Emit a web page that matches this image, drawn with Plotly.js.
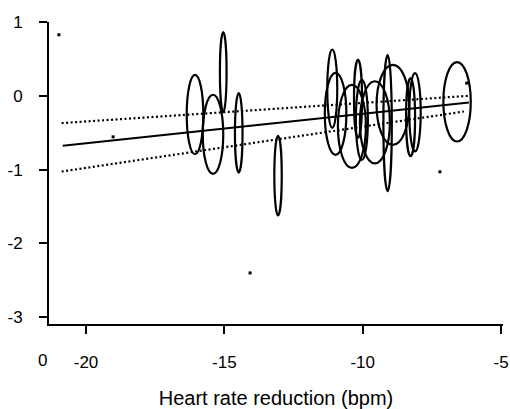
<!DOCTYPE html>
<html>
<head>
<meta charset="utf-8">
<script src="https://cdn.plot.ly/plotly-3.0.1.min.js"></script>
<style>html,body{margin:0;padding:0;background:#fff;}#chart{width:510px;height:409px;}</style>
</head>
<body>
<div id="chart"></div>
<script>
// Study ellipses (centre, half-width in bpm, half-height in effect units)
const studyX  = [-16.06, -15.41, -15.04, -14.48, -13.06, -11.10, -10.98, -10.39, -10.17, -10.03, -9.56, -9.10, -8.91, -8.27, -8.11, -6.59];
const studyY  = [-0.254, -0.522, 0.321, -0.502, -1.082, 0.095, -0.244, -0.414, -0.041, -0.325, -0.359, -0.370, -0.122, -0.289, -0.224, -0.081];
const studyHW = [0.30, 0.37, 0.12, 0.137, 0.134, 0.18, 0.39, 0.506, 0.145, 0.217, 0.542, 0.152, 0.589, 0.163, 0.206, 0.495];
const studyHH = [0.538, 0.536, 0.542, 0.538, 0.54, 0.53, 0.556, 0.563, 0.53, 0.542, 0.556, 0.922, 0.542, 0.53, 0.53, 0.538];

// Small point studies
const dotX = [-20.98, -19.02, -14.07, -7.21, -6.24];
const dotY = [0.827, -0.556, -2.40, -1.03, 0.172];

// Meta-regression line and confidence bounds
const fitX   = [-20.84, -6.16];
const fitY   = [-0.678, -0.091];
const upperX = [-20.88, -6.16];
const upperY = [-0.37, 0.0];
const lowerX = [-20.88, -6.34];
const lowerY = [-1.026, -0.213];

// Tick labels
const xTicks = [-20, -15, -10, -5];
const yTicks = [-3, -2, -1, 0, 1];
const extraXLabel = '0';
const xTitle = 'Heart rate reduction (bpm)';

const font = {family: 'Liberation Sans, Arial, sans-serif', color: '#000'};

const shapes = studyX.map((cx, i) => ({
  type: 'circle', xref: 'x', yref: 'y',
  x0: cx - studyHW[i], x1: cx + studyHW[i],
  y0: studyY[i] - studyHH[i], y1: studyY[i] + studyHH[i],
  line: {color: '#000', width: 2.2}, fillcolor: 'rgba(0,0,0,0)'
}));

const traces = [
  {x: fitX, y: fitY, mode: 'lines', line: {color: '#000', width: 2}, hoverinfo: 'skip'},
  {x: upperX, y: upperY, mode: 'lines', line: {color: '#000', width: 2.2, dash: '2px,2.5px'}, hoverinfo: 'skip'},
  {x: lowerX, y: lowerY, mode: 'lines', line: {color: '#000', width: 2.2, dash: '2px,2.5px'}, hoverinfo: 'skip'},
  {x: dotX, y: dotY, mode: 'markers', marker: {symbol: 'square', size: 3, color: '#000'}, hoverinfo: 'skip'}
];

const layout = {
  width: 510, height: 409,
  margin: {l: 49, r: 7, t: 22, b: 85},
  paper_bgcolor: '#fff', plot_bgcolor: '#fff',
  showlegend: false,
  font: font,
  xaxis: {
    range: [-21.337, -4.93], showgrid: false, zeroline: false,
    showline: true, linecolor: '#000', linewidth: 2,
    ticks: 'outside', ticklen: 8, tickwidth: 2, tickcolor: '#000',
    tickvals: xTicks, ticktext: xTicks.map(String),
    tickfont: {family: font.family, size: 17, color: '#000'},
    ticklabelstandoff: 14,
    title: {text: xTitle, font: {family: font.family, size: 20, color: '#000'}, standoff: 22}
  },
  yaxis: {
    range: [-3.092, 1.0], showgrid: false, zeroline: false,
    showline: true, linecolor: '#000', linewidth: 2,
    ticks: 'outside', ticklen: 8, tickwidth: 2, tickcolor: '#000',
    tickvals: yTicks, ticktext: yTicks.map(String),
    tickfont: {family: font.family, size: 17, color: '#000'},
    ticklabelstandoff: 13
  },
  shapes: shapes,
  annotations: [{
    xref: 'paper', yref: 'paper', x: -0.0154, y: 0, yshift: -36,
    text: extraXLabel, showarrow: false, xanchor: 'center', yanchor: 'middle',
    font: {family: font.family, size: 17, color: '#000'}
  }]
};

Plotly.newPlot('chart', traces, layout, {displayModeBar: false, staticPlot: true});
</script>
</body>
</html>
